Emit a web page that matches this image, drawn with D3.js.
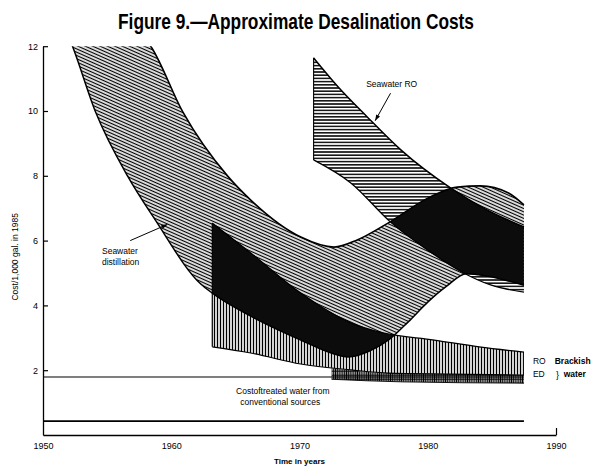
<!DOCTYPE html>
<html><head><meta charset="utf-8">
<script src="https://cdn.jsdelivr.net/npm/d3@7"></script>
<style>body{margin:0;background:#fff}svg{display:block}</style>
</head><body><svg id="c" width="591" height="466"></svg>
<script>
// ---- data (year, cost $/1,000 gal in 1985 dollars) ----
const xTicks = [1950, 1960, 1970, 1980, 1990];
const yTicks = [2, 4, 6, 8, 10, 12];
const distUpper = [[1957.6,12.4],[1958.4,12.0],[1960.9,9.97],[1964.4,7.99],[1966.2,7.25],[1970.1,6.11],[1972.7,5.80],[1974.5,6.02],[1976.9,6.54],[1980.2,7.35],[1982.3,7.65],[1984.1,7.69],[1986.3,7.47],[1987.5,7.10]];
const distLower = [[1951.9,12.4],[1952.3,12.0],[1954.1,9.97],[1956.6,7.99],[1958.75,6.64],[1962.3,4.66],[1963.2,4.38],[1966.2,3.67],[1970.1,2.93],[1972.7,2.50],[1973.8,2.41],[1975.5,2.60],[1977.0,2.95],[1978.5,3.50],[1980.0,4.10],[1981.5,4.60],[1983.0,4.98],[1984.7,4.90],[1987.5,4.62]];
const roUpper = [[1971.1,11.64],[1973.0,10.75],[1975.3,9.81],[1977.9,8.80],[1981.8,7.62],[1984.5,6.97],[1987.5,6.42]];
const roLower = [[1971.1,8.49],[1974.0,7.78],[1977.1,6.57],[1980.2,5.65],[1982.8,5.00],[1984.9,4.63],[1987.5,4.41]];
const brTop = [[1963.2,6.54],[1966.2,5.62],[1970.1,4.38],[1974.0,3.46],[1976.5,3.15],[1980.5,2.93],[1984.0,2.72],[1987.5,2.56]];
const brBottom = [[1963.2,2.72],[1966.2,2.53],[1970.1,2.19],[1974.0,2.01],[1976.9,1.91],[1981.8,1.88],[1987.5,1.85]];
const edTop = [[1972.5,2.06],[1976.9,1.91],[1981.8,1.88],[1987.5,1.85]];
const edBottom = [[1972.5,1.72],[1978.0,1.64],[1987.5,1.60]];
const treatedLine = [[1950,1.79],[1987.5,1.79]];
const lowLine = [[1950,0.43],[1987.5,0.43]];

const svg = d3.select("#c");
const x = d3.scaleLinear().domain([1950,1990]).range([43,556]);
const y = d3.scaleLinear().domain([0,12]).range([435,46.2]);

const defs = svg.append("defs");
function pat(id, w, h, rot, lines, sw){
  const p = defs.append("pattern").attr("id",id).attr("patternUnits","userSpaceOnUse")
    .attr("width",w).attr("height",h);
  if(rot) p.attr("patternTransform",`rotate(${rot})`);
  lines.forEach(l=>p.append("line").attr("x1",l[0]).attr("y1",l[1]).attr("x2",l[2]).attr("y2",l[3])
    .attr("stroke","#000").attr("stroke-width",l[4]||sw));
}
pat("diag",10,3.0,24, [[0,1.5,10,1.5]], 1.3);
pat("horiz",10,3.2,0, [[0,1.6,10,1.6]], 1.45);
pat("vert",3.0,10,0, [[1.5,0,1.5,10]], 1.35);
pat("edp",2.2,4,0, [[1.1,0,1.1,4],[0,3.2,2.2,3.2,0.9]], 1.4);

defs.append("clipPath").attr("id","plot").append("rect")
  .attr("x",x(1950)).attr("y",y(12)).attr("width",x(1990)-x(1950)).attr("height",y(0)-y(12));

const line = d3.line().x(d=>x(d[0])).y(d=>y(d[1])).curve(d3.curveMonotoneX);
function band(up, lo){
  return line(up) + line(lo.slice().reverse()).replace(/^M/,"L") + "Z";
}
const distP = band(distUpper, distLower);
const roP = band(roUpper, roLower);
const brP = band(brTop, brBottom);
const edP = band(edTop, edBottom);

defs.append("clipPath").attr("id","clipRO").append("path").attr("d",roP);
defs.append("clipPath").attr("id","clipBR").append("path").attr("d",brP);

const g = svg.append("g").attr("clip-path","url(#plot)");
g.append("path").attr("d",distP).attr("fill","url(#diag)");
g.append("path").attr("d",roP).attr("fill","url(#horiz)");
g.append("path").attr("d",brP).attr("fill","url(#vert)");
g.append("path").attr("d",edP).attr("fill","url(#edp)");
g.append("g").attr("clip-path","url(#clipRO)").append("path").attr("d",distP).attr("fill","#0c0c0c");
g.append("g").attr("clip-path","url(#clipBR)").append("path").attr("d",distP).attr("fill","#0c0c0c");

// edges
const edge = (d,w)=>g.append("path").attr("d",line(d)).attr("fill","none").attr("stroke","#000").attr("stroke-width",w);
edge(distUpper,1.6); edge(distLower,1.5);
edge(roUpper,1.5); edge(roLower,1.3);
edge(brTop,1.3); edge(brBottom,1.1);
edge([roUpper[0],roLower[0]],1.1);
edge([brTop[0],brBottom[0]],1.2);
edge(edBottom,0.9);
edge(treatedLine,1.2);
edge(lowLine,1.8);

// axes
const ff = "Liberation Sans, Arial, sans-serif";
const ya = svg.append("g").attr("transform",`translate(${x(1950)},0)`)
  .call(d3.axisLeft(y).tickValues(yTicks).tickSizeInner(-5).tickSizeOuter(0).tickPadding(5).tickFormat(d3.format("d")));
const xa = svg.append("g").attr("transform",`translate(0,${y(0)})`)
  .call(d3.axisBottom(x).tickValues(xTicks).tickSize(0).tickPadding(8).tickFormat(d3.format("d")));
[ya,xa].forEach(a=>{
  a.select(".domain").attr("stroke","#000").attr("stroke-width",1.3);
  a.selectAll(".tick line").attr("stroke","#000").attr("stroke-width",1.2);
  a.selectAll("text").attr("fill","#000").attr("font-family",ff).attr("font-size",9);
});
xa.selectAll(".tick").filter(d=>d===1990).select("line").attr("y2",-7);

svg.append("text").attr("x",296).attr("y",29).attr("text-anchor","middle")
  .attr("font-family","Liberation Sans Narrow, Liberation Sans, Arial, sans-serif").attr("font-weight","bold")
  .attr("font-size",22).attr("textLength",356).attr("lengthAdjust","spacingAndGlyphs")
  .text("Figure 9.—Approximate Desalination Costs");
svg.append("text").attr("transform",`translate(18,${y(5.5)}) rotate(-90)`).attr("text-anchor","middle")
  .attr("font-family",ff).attr("font-size",8.5).text("Cost/1,000 gal. in 1985");
svg.append("text").attr("x",x(1970)).attr("y",464).attr("text-anchor","middle")
  .attr("font-family",ff).attr("font-size",8).attr("font-weight","bold").text("Time in years");

// annotations
const ann = (t,xx,yy,opts={})=>svg.append("text").attr("x",xx).attr("y",yy).attr("font-family",ff)
  .attr("font-size",opts.size||8.5).attr("font-weight",opts.bold?"bold":"normal")
  .attr("text-anchor",opts.anchor||"start").text(t);
ann("Seawater RO", x(1975.2), y(10.75));
ann("Seawater", x(1954.6), y(5.6));
ann("distillation", x(1954.6), y(5.25));
function arrow(x1,y1,x2,y2){
  svg.append("line").attr("x1",x1).attr("y1",y1).attr("x2",x2).attr("y2",y2).attr("stroke","#000").attr("stroke-width",1);
  const a = Math.atan2(y2-y1,x2-x1), L=6, W=2.2;
  const p = [[x2,y2],[x2-L*Math.cos(a)+W*Math.sin(a), y2-L*Math.sin(a)-W*Math.cos(a)],[x2-L*Math.cos(a)-W*Math.sin(a), y2-L*Math.sin(a)+W*Math.cos(a)]];
  svg.append("path").attr("d","M"+p.join("L")+"Z").attr("fill","#000");
}
arrow(x(1977.1), y(10.55), x(1975.9), y(9.7));
arrow(x(1956.8), y(6.0), x(1959.7), y(6.5));
ann("RO", x(1988.2), y(2.2));
ann("ED", x(1988.2), y(1.8), {size:8.5});
ann("}", x(1990.0), y(1.76), {size:9});
ann("Brackish", x(1989.9), y(2.2), {bold:true, size:8.5});
ann("water", x(1990.6), y(1.8), {bold:true, size:8.5});
ann("Costoftreated water from", x(1968.7), y(1.28), {anchor:"middle"});
ann("conventional sources", x(1968.5), y(0.92), {anchor:"middle"});
</script></body></html>
